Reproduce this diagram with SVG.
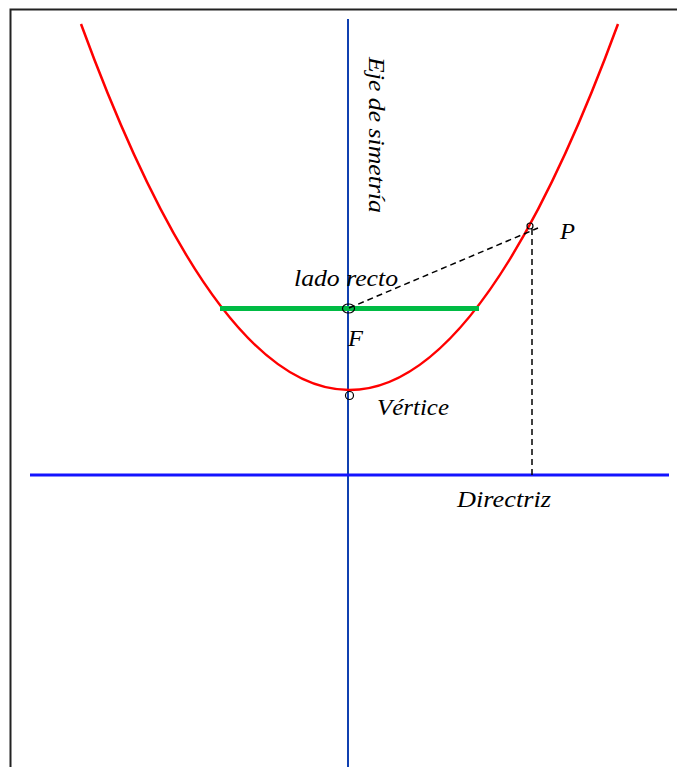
<svg xmlns="http://www.w3.org/2000/svg" width="677" height="767" viewBox="0 0 677 767">
  <style>
    .lbl { font-family: "Liberation Serif", "Times New Roman", serif; font-style: italic; font-size: 23px; fill: #000; }
    .dash { fill: none; stroke: #000; stroke-width: 1.5; stroke-dasharray: 6 4; }
    .pt { fill: none; stroke: #000; stroke-width: 1.2; }
  </style>
  <rect width="677" height="767" fill="#fff"/>
  <path d="M10.5,767 V9.5 H677" fill="none" stroke="#222" stroke-width="2"/>

  <g id="connectors">
    <line id="axis" x1="348" y1="19" x2="348" y2="767" stroke="#1040b0" stroke-width="2"/>
    <line id="directrix" x1="30" y1="475" x2="669" y2="475" stroke="#1414ff" stroke-width="3"/>
    <path id="parabola" d="M81,24 Q349,756 618,24" fill="none" stroke="#ff0000" stroke-width="2.5"/>
    <line id="latus-rectum" x1="220" y1="308.5" x2="479" y2="308.5" stroke="#00bb44" stroke-width="5"/>
    <line class="dash" x1="349" y1="308" x2="538" y2="228"/>
    <line class="dash" x1="532" y1="229" x2="532" y2="479"/>
  </g>

  <g id="focus">
    <ellipse class="pt" cx="348.5" cy="308.5" rx="6" ry="4.5"/>
    <text class="lbl" x="348" y="346" textLength="15" lengthAdjust="spacingAndGlyphs">F</text>
  </g>
  <g id="vertex">
    <circle class="pt" cx="349.5" cy="395.5" r="4"/>
    <text class="lbl" x="377" y="415" textLength="72" lengthAdjust="spacingAndGlyphs">Vértice</text>
  </g>
  <g id="point-p">
    <circle class="pt" cx="530" cy="226" r="3"/>
    <text class="lbl" x="560" y="239" textLength="15" lengthAdjust="spacingAndGlyphs">P</text>
  </g>
  <g id="lado-recto-label">
    <text class="lbl" x="294" y="286" textLength="104" lengthAdjust="spacingAndGlyphs">lado recto</text>
  </g>
  <g id="directriz-label">
    <text class="lbl" x="457" y="507" textLength="94" lengthAdjust="spacingAndGlyphs">Directriz</text>
  </g>
  <g id="eje-label">
    <text class="lbl" transform="translate(369,57) rotate(90)" textLength="156" lengthAdjust="spacingAndGlyphs">Eje de simetría</text>
  </g>
</svg>
